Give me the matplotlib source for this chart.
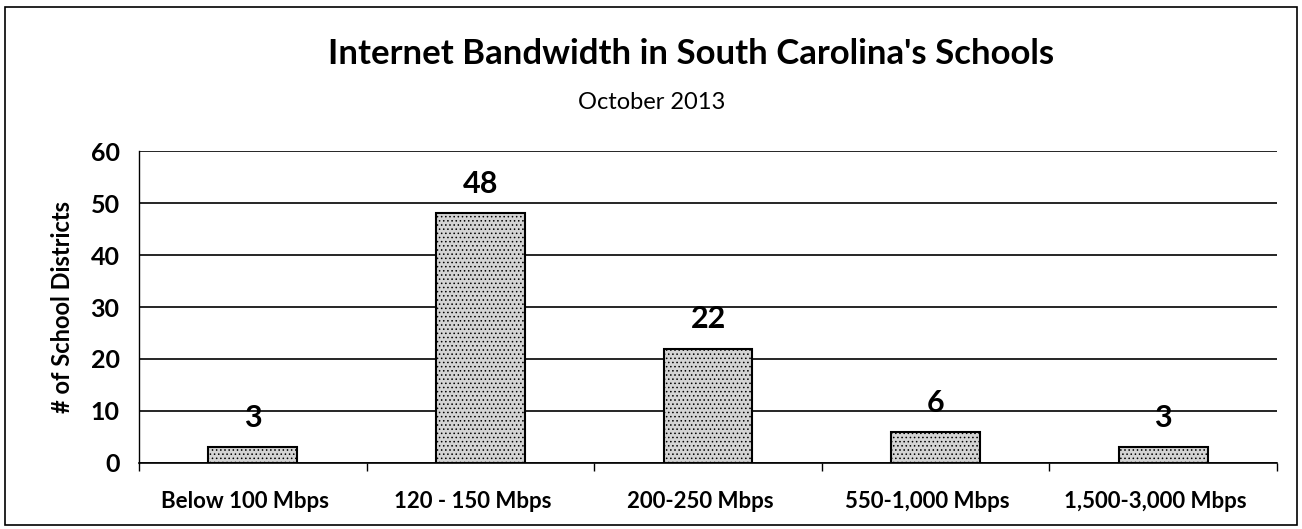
import matplotlib
matplotlib.use('Agg')
from matplotlib import pyplot as plt
from matplotlib.patches import Rectangle
from matplotlib.transforms import ScaledTranslation
import numpy

# chart data
categories = ['Below 100 Mbps', '120 - 150 Mbps', '200-250 Mbps', '550-1,000 Mbps', '1,500-3,000 Mbps']
districts = [3, 48, 22, 6, 3]
yticks = [0, 10, 20, 30, 40, 50, 60]

plt.rcParams['font.family'] = ['Lato', 'DejaVu Sans']
plt.rcParams['hatch.color'] = '#555555'
plt.rcParams['hatch.linewidth'] = 0.6

fig = plt.figure(figsize=(13.02, 5.29), dpi=100)
ax = fig.add_axes([139 / 1302, 1 - 463 / 529, (1277 - 139) / 1302, (463 - 151) / 529])

x = numpy.arange(len(categories))
ax.bar(x, districts, width=0.39, color='#d4d4d4', edgecolor='black', linewidth=1.5,
       hatch='....', zorder=3)

# value labels above bars
for xi, v in zip(x, districts):
    ax.text(xi, v + 5.6, str(v), ha='center', va='center', fontsize=22,
            fontweight='bold', zorder=4)

ax.set_xlim(-0.5, len(categories) - 0.5)
ax.set_ylim(0, 60)
ax.set_yticks(yticks)
ax.yaxis.grid(True, color='black', linewidth=1.2)
ax.set_axisbelow(True)

ax.set_xticks(x)
ax.set_xticklabels(categories, fontsize=16, fontweight='bold')
ax.tick_params(axis='x', length=0, pad=20)
# labels sit a little left of the bar centres in the original
shift = ScaledTranslation(-8 / 100, 0, fig.dpi_scale_trans)
for lab in ax.get_xticklabels():
    lab.set_transform(lab.get_transform() + shift)
ax.set_xticks(numpy.arange(len(categories) + 1) - 0.5, minor=True)
ax.tick_params(axis='x', which='minor', length=6, direction='out', width=1)
ax.tick_params(axis='y', length=0, labelsize=18, pad=14)
for lab in ax.get_yticklabels():
    lab.set_fontweight('bold')

for side in ['top', 'right']:
    ax.spines[side].set_visible(False)
ax.spines['left'].set_linewidth(1)
ax.spines['bottom'].set_linewidth(1.2)

ax.set_ylabel('# of School Districts', fontsize=17, fontweight='bold', labelpad=12)

fig.text(691 / 1302, 1 - 54 / 529, "Internet Bandwidth in South Carolina's Schools",
         ha='center', va='center', fontsize=25, fontweight='bold')
fig.text(652 / 1302, 1 - 102 / 529, 'October 2013', ha='center', va='center', fontsize=17)

# outer frame
fig.patches.append(Rectangle((5 / 1302, 4 / 529), 1292 / 1302, 518 / 529,
                             transform=fig.transFigure, fill=False,
                             edgecolor='black', linewidth=1.2))

fig.savefig('out.png', dpi=100)
